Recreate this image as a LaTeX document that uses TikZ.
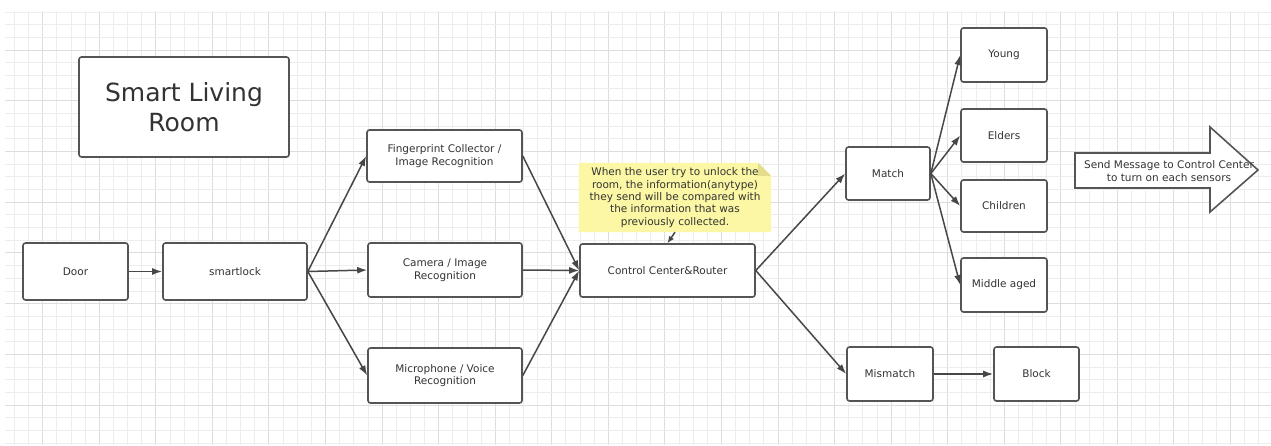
\documentclass[tikz,border=0pt]{standalone}
\usepackage{fontspec}
\setmainfont{DejaVu Sans}
\usetikzlibrary{arrows.meta,backgrounds,calc}
\definecolor{boxline}{HTML}{555555}
\definecolor{arrline}{HTML}{474747}
\definecolor{txt}{HTML}{333333}
\definecolor{gridminor}{HTML}{EDEDED}
\definecolor{gridmajor}{HTML}{DDDDDD}
\definecolor{notefill}{HTML}{FBF7A4}
\definecolor{notefold}{HTML}{E4DE8C}
\tikzset{
  box/.style={draw=boxline, line width=1.6pt, rounded corners=2.5pt, fill=white,
    text=txt, font=\fontsize{10.5}{12.5}\selectfont, align=center, inner sep=0pt},
  arr/.style={draw=arrline, line width=1.5pt, -{Latex[length=10pt,width=7pt]}},
  notetext/.style={text=txt, font=\fontsize{10.5}{12.3}\selectfont, align=center, inner sep=0pt,
    minimum width=192pt, minimum height=69pt},
}
\begin{document}
\begin{tikzpicture}[x=1pt,y=-1pt]
\useasboundingbox (0,0) rectangle (1271,445);
\begin{scope}[on background layer]
\fill[white] (0,0) rectangle (1271,445);
\begin{scope}
\clip (5,11) rectangle (1271,445);
\foreach \k in {-2,...,86}{
  \pgfmathtruncatemacro{\m}{mod(\k+8,4)}
  \ifnum\m=0 \draw[gridmajor,line width=0.9pt] ({42.7+14.14*\k},0) -- ({42.7+14.14*\k},445);
  \else \draw[gridminor,line width=0.8pt] ({42.7+14.14*\k},0) -- ({42.7+14.14*\k},445); \fi
}
\foreach \j in {-3,...,31}{
  \pgfmathtruncatemacro{\m}{mod(\j+8,4)}
  \ifnum\m=0 \draw[gridmajor,line width=0.9pt] (0,{50+12.68*\j}) -- (1271,{50+12.68*\j});
  \else \draw[gridminor,line width=0.8pt] (0,{50+12.68*\j}) -- (1271,{50+12.68*\j}); \fi
}
\end{scope}
\end{scope}

% nodes
\node[box, minimum width=210pt, minimum height=100pt, font=\fontsize{25}{30}\selectfont] (title) at (184,107) {Smart Living\\Room};
\node[box, minimum width=105pt, minimum height=57pt] (door) at (75.5,271.5) {Door};
\node[box, minimum width=144pt, minimum height=57pt] (lock) at (235,271.5) {smartlock};
\node[box, minimum width=155pt, minimum height=52pt] (finger) at (444.5,156) {Fingerprint Collector /\\Image Recognition};
\node[box, minimum width=154pt, minimum height=54pt] (camera) at (445,270) {Camera / Image\\Recognition};
\node[box, minimum width=154pt, minimum height=55pt] (mic) at (445,375.5) {Microphone / Voice\\Recognition};
\node[box, minimum width=175pt, minimum height=53pt] (cc) at (667.5,270.5) {Control Center\&Router};
\node[notetext] (note) at (675,197.5) {When the user try to unlock the\\room, the information(anytype)\\they send will be compared with\\the information that was\\previously collected.};
\begin{scope}[on background layer]
\fill[notefill] (note.north west) -- ($(note.north east)+(-13,0)$) -- ($(note.north east)+(0,13)$) -- (note.south east) -- (note.south west) -- cycle;
\fill[notefold] ($(note.north east)+(-13,0)$) -- ($(note.north east)+(-13,13)$) -- ($(note.north east)+(0,13)$) -- cycle;
\end{scope}
\node[box, minimum width=84pt, minimum height=53pt] (match) at (888,173.5) {Match};
\node[box, minimum width=86pt, minimum height=54pt] (young) at (1004,55) {Young};
\node[box, minimum width=86pt, minimum height=53pt] (elders) at (1004,135.5) {Elders};
\node[box, minimum width=86pt, minimum height=52pt] (children) at (1004,206) {Children};
\node[box, minimum width=86pt, minimum height=54pt] (middle) at (1004,285) {Middle aged};
\node[box, minimum width=86pt, minimum height=54pt] (mismatch) at (890,374) {Mismatch};
\node[box, minimum width=85pt, minimum height=54pt] (block) at (1036.5,374) {Block};

% big arrow
\draw[boxline, line width=1.6pt, fill=white, line join=miter]
  (1075,153) -- (1210,153) -- (1210,127) -- (1258,170) -- (1210,212) -- (1210,188) -- (1075,188) -- cycle;
\node[text=txt, font=\fontsize{10.5}{12.3}\selectfont, align=center, inner sep=0pt] (bigtext) at (1169,171)
  {Send Message to Control Center\\to turn on each sensors};

% connectors
\draw[arr] (door.east) -- (lock.west);
\draw[arr] (lock.east) -- (finger.west);
\draw[arr] (lock.east) -- (camera.west);
\draw[arr] (lock.east) -- (mic.west);
\draw[arr] (finger.east) -- (cc.west);
\draw[arr] (camera.east) -- (cc.west);
\draw[arr] (mic.east) -- (cc.west);
\draw[arr, -{Latex[length=7pt,width=6pt]}] (note.south) -- (cc.north);
\draw[arr] (cc.east) -- (match.west);
\draw[arr] (cc.east) -- (mismatch.west);
\draw[arr] (match.east) -- (young.west);
\draw[arr] (match.east) -- (elders.west);
\draw[arr] (match.east) -- (children.west);
\draw[arr] (match.east) -- (middle.west);
\draw[arr] (mismatch.east) -- (block.west);
\end{tikzpicture}
\end{document}
